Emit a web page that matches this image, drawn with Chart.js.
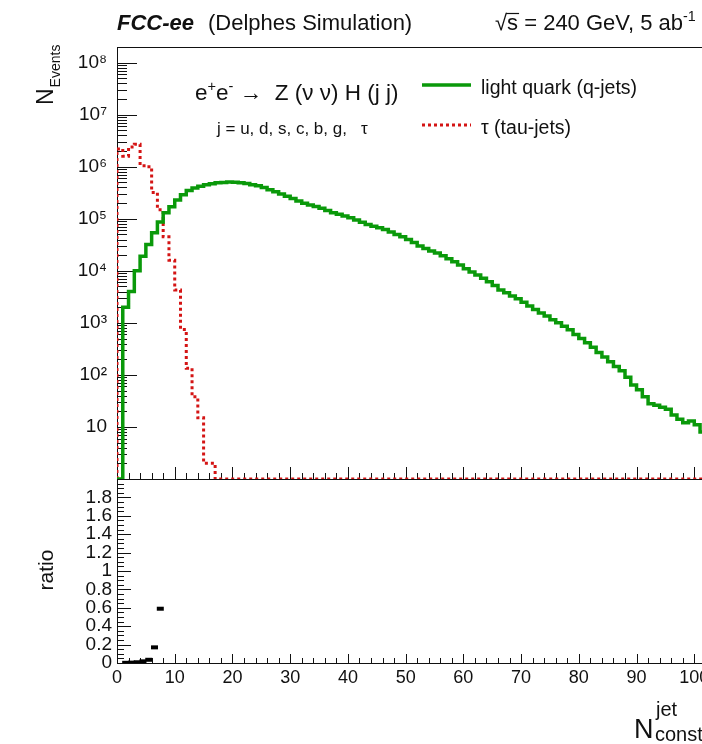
<!DOCTYPE html>
<html>
<head>
<meta charset="utf-8">
<script src="https://cdn.jsdelivr.net/npm/chart.js@4.4.1/dist/chart.umd.min.js"></script>
<style>
  html, body { margin: 0; padding: 0; background: #fff; overflow: hidden; }
  #wrap { position: relative; width: 702px; height: 744px; overflow: hidden; background: #fff; }
  #wrap canvas { position: absolute; left: 0; }
  #top { top: 0; }
  #bottom { top: 470px; }
</style>
</head>
<body>
<div id="wrap">
  <canvas id="top" width="800" height="480"></canvas>
  <canvas id="bottom" width="800" height="274"></canvas>
</div>
<script>
// jet constituent multiplicity, one bin per unit starting at 0
const qJets = [
  0, 2.0e3, 4.0e3, 1.0e4, 1.9e4, 3.2e4, 5.4e4, 8.7e4, 1.3e5, 1.7e5,
  2.3e5, 2.9e5, 3.5e5, 3.9e5, 4.2e5, 4.5e5, 4.7e5, 4.9e5, 5.0e5, 5.1e5,
  5.05e5, 4.95e5, 4.75e5, 4.5e5, 4.3e5, 4.0e5, 3.6e5, 3.3e5, 3.0e5, 2.7e5,
  2.45e5, 2.2e5, 2.0e5, 1.85e5, 1.72e5, 1.6e5, 1.45e5, 1.3e5, 1.22e5, 1.13e5,
  1.05e5, 9.5e4, 8.6e4, 7.8e4, 7.2e4, 6.7e4, 6.2e4, 5.6e4, 5.0e4, 4.5e4,
  4.0e4, 3.5e4, 3.0e4, 2.7e4, 2.4e4, 2.2e4, 1.95e4, 1.7e4, 1.5e4, 1.3e4,
  1.1e4, 9.5e3, 8.3e3, 7.2e3, 6.2e3, 5.2e3, 4.3e3, 3.8e3, 3.3e3, 2.9e3,
  2.5e3, 2.1e3, 1.8e3, 1.55e3, 1.35e3, 1.15e3, 1.0e3, 860, 740, 600,
  500, 415, 340, 270, 220, 180, 145, 120, 90, 64,
  52, 38, 28, 26, 24, 22, 17, 14, 12, 13,
  11, 8
];
const tauJets = [
  2.2e6, 1.6e6, 2.4e6, 2.7e6, 1.05e6, 1.0e6, 3.2e5, 1.5e5, 4.5e4, 1.6e4,
  4.3e3, 750, 135, 38, 15, 2, 2, 0, 0, 0,
  0, 0, 0, 0, 0, 0, 0, 0, 0, 0,
  0, 0, 0, 0, 0, 0, 0, 0, 0, 0,
  0, 0, 0, 0, 0, 0, 0, 0, 0, 0,
  0, 0, 0, 0, 0, 0, 0, 0, 0, 0,
  0, 0, 0, 0, 0, 0, 0, 0, 0, 0,
  0, 0, 0, 0, 0, 0, 0, 0, 0, 0,
  0, 0, 0, 0, 0, 0, 0, 0, 0, 0,
  0, 0, 0, 0, 0, 0, 0, 0, 0, 0,
  0, 0
];
// q-jets / tau-jets, only the bins that fall inside the 0-2 window
const ratioBins = [1, 2, 3, 4, 5, 6, 7];
const ratioValues = [0.002, 0.004, 0.008, 0.018, 0.035, 0.17, 0.59];

const countTickLabels = ['', '10', '10²', '10³', '10⁴', '10⁵', '10⁶', '10⁷', '10⁸'];
const ratioTickLabels = ['0', '0.2', '0.4', '0.6', '0.8', '1', '1.2', '1.4', '1.6', '1.8'];

const FONT = '"Liberation Sans", Arial, Helvetica, sans-serif';
const GREEN = '#0a990a';
const RED = '#d41414';
const INK = '#111';
const Y_MIN = 1;
const Y_MAX = 2e8;

Chart.defaults.font.family = FONT;
Chart.defaults.color = INK;

// histogram outline: rise from the floor, then one step per bin.
// empty bins sit on the frame bottom like ROOT draws them on a log axis
function outline(values, floor) {
  const pts = [{ x: 0, y: floor }];
  values.forEach((v, i) => pts.push({ x: i, y: Math.max(v, floor) }));
  pts.push({ x: values.length, y: Math.max(values[values.length - 1], floor) });
  return pts;
}

// text with superscript (1) / subscript (-1) pieces
function richText(ctx, x, y, parts, size, style) {
  let cx = x;
  parts.forEach(([t, k]) => {
    const fs = k ? size * 0.65 : size;
    ctx.font = `${style || ''} ${fs}px ${FONT}`;
    ctx.fillText(t, cx, y - k * size * 0.42);
    cx += ctx.measureText(t).width;
  });
  return cx;
}

// ROOT style frame with inward ticks
const rootFrame = {
  id: 'rootFrame',
  beforeDatasetsDraw(chart, args, o) {
    const { ctx, chartArea: a } = chart;
    const xs = chart.scales.x, ys = chart.scales.y;
    ctx.save();
    ctx.strokeStyle = INK;
    ctx.lineWidth = 1;
    ctx.strokeRect(a.left + 0.5, a.top + 0.5, a.right - a.left, a.bottom - a.top);
    ctx.beginPath();
    const nx = Math.round((xs.max - xs.min) / o.xMinor);
    for (let k = 0; k <= nx; k++) {
      const px = Math.round(xs.getPixelForValue(xs.min + k * o.xMinor)) + 0.5;
      const len = k % o.xEvery === 0 ? o.xMajorLen : o.xMinorLen;
      ctx.moveTo(px, a.bottom);
      ctx.lineTo(px, a.bottom - len);
    }
    if (o.log) {
      for (let e = 0; e < 9; e++) {
        for (let m = 1; m < 10; m++) {
          const v = m * Math.pow(10, e);
          if (v > ys.max) break;
          const py = Math.round(ys.getPixelForValue(v)) + 0.5;
          ctx.moveTo(a.left, py);
          ctx.lineTo(a.left + (m === 1 ? o.yMajorLen : o.yMinorLen), py);
        }
      }
    } else {
      const ny = Math.round((ys.max - ys.min) / o.yMinor);
      for (let k = 0; k <= ny; k++) {
        const py = Math.round(ys.getPixelForValue(ys.min + k * o.yMinor)) + 0.5;
        ctx.moveTo(a.left, py);
        ctx.lineTo(a.left + (k % o.yEvery === 0 ? o.yMajorLen : o.yMinorLen), py);
      }
    }
    ctx.stroke();
    ctx.restore();
  }
};

const upperText = {
  id: 'upperText',
  afterDraw(chart) {
    const ctx = chart.ctx;
    ctx.save();
    ctx.fillStyle = INK;
    ctx.textBaseline = 'alphabetic';

    // header line
    ctx.font = `italic bold 22px ${FONT}`;
    ctx.fillText('FCC-ee', 117, 30);
    ctx.font = `22px ${FONT}`;
    ctx.fillText('(Delphes Simulation)', 208, 30);
    let x = 495;
    ctx.fillText('√', x, 30);
    x += ctx.measureText('√').width;
    const sw = ctx.measureText('s').width;
    ctx.fillText('s', x, 30);
    ctx.beginPath();
    ctx.lineWidth = 1.2;
    ctx.strokeStyle = INK;
    ctx.moveTo(x - 1, 13.5);
    ctx.lineTo(x + sw + 1, 13.5);
    ctx.stroke();
    richText(ctx, x + sw, 30, [[' = 240 GeV, 5 ab', 0], ['-1', 1]], 22);

    // process description
    richText(ctx, 195, 100, [['e', 0], ['+', 1], ['e', 0], ['-', 1], [' →  Z (ν ν) H (j j)', 0]], 22.5);
    ctx.font = `17px ${FONT}`;
    ctx.fillText('j = u, d, s, c, b, g,   τ', 217, 134);

    // legend
    const rows = [94, 134];
    chart.data.datasets.forEach((ds, i) => {
      const y = rows[i];
      ctx.save();
      ctx.strokeStyle = ds.borderColor;
      ctx.lineWidth = ds.borderWidth;
      ctx.setLineDash(ds.borderDash || []);
      ctx.beginPath();
      ctx.moveTo(422, y - 9);
      ctx.lineTo(471, y - 9);
      ctx.stroke();
      ctx.restore();
      ctx.font = `19.5px ${FONT}`;
      ctx.fillText(ds.label, 481, y);
    });

    // y title
    ctx.translate(53, 105);
    ctx.rotate(-Math.PI / 2);
    ctx.font = `23px ${FONT}`;
    ctx.fillText('N', 0, 0);
    const nw = ctx.measureText('N').width;
    ctx.font = `14px ${FONT}`;
    ctx.fillText('Events', nw + 1, 7);
    ctx.restore();
  }
};

const lowerText = {
  id: 'lowerText',
  afterDraw(chart) {
    const ctx = chart.ctx;
    ctx.save();
    ctx.fillStyle = INK;
    ctx.font = `27px ${FONT}`;
    ctx.fillText('N', 634, 268);
    ctx.font = `20px ${FONT}`;
    ctx.fillText('jet', 656, 246);
    ctx.fillText('const', 655, 271);
    ctx.translate(53, 100);
    ctx.rotate(-Math.PI / 2);
    ctx.textAlign = 'center';
    ctx.font = `21px ${FONT}`;
    ctx.fillText('ratio', 0, 0);
    ctx.restore();
  }
};

new Chart(document.getElementById('top'), {
  type: 'line',
  data: {
    datasets: [
      { label: 'light quark (q-jets)', data: outline(qJets, Y_MIN), borderColor: GREEN,
        borderWidth: 3.5, stepped: 'before', pointRadius: 0, fill: false },
      { label: 'τ (tau-jets)', data: outline(tauJets, Y_MIN), borderColor: RED,
        borderWidth: 3, borderDash: [3, 3], stepped: 'before', pointRadius: 0, fill: false }
    ]
  },
  options: {
    responsive: false,
    animation: false,
    devicePixelRatio: 1,
    events: [],
    layout: { padding: { top: 47, right: 48, bottom: 1, left: 0 } },
    scales: {
      x: { type: 'linear', min: 0, max: 110, display: false },
      y: {
        type: 'logarithmic', min: Y_MIN, max: Y_MAX,
        grid: { display: false, drawTicks: false },
        border: { display: false },
        ticks: {
          autoSkip: false, padding: 10, font: { size: 19 },
          callback: v => {
            const e = Math.round(Math.log10(v));
            return Math.abs(v - Math.pow(10, e)) < 1e-6 * v ? countTickLabels[e] : null;
          }
        },
        afterFit: s => { s.width = 117; s.paddingTop = 0; s.paddingBottom = 0; }
      }
    },
    plugins: {
      legend: { display: false },
      tooltip: { enabled: false },
      rootFrame: { xMinor: 2, xEvery: 5, xMajorLen: 12, xMinorLen: 6, log: true, yMajorLen: 20, yMinorLen: 10 }
    }
  },
  plugins: [rootFrame, upperText]
});

new Chart(document.getElementById('bottom'), {
  type: 'scatter',
  data: {
    datasets: [{
      data: ratioBins.map((b, i) => ({ x: b + 0.5, y: ratioValues[i] })),
      pointStyle: 'line', pointRadius: 3.5, borderWidth: 4,
      borderColor: '#000', backgroundColor: '#000'
    }]
  },
  options: {
    responsive: false,
    animation: false,
    devicePixelRatio: 1,
    events: [],
    layout: { padding: { top: 9, right: 48, bottom: 0, left: 0 } },
    scales: {
      x: {
        type: 'linear', min: 0, max: 110,
        grid: { display: false, drawTicks: false },
        border: { display: false },
        ticks: { stepSize: 10, padding: 4, font: { size: 18 }, maxRotation: 0, autoSkip: false },
        afterFit: s => { s.height = 81; s.paddingLeft = 0; s.paddingRight = 0; }
      },
      y: {
        type: 'linear', min: 0, max: 2,
        grid: { display: false, drawTicks: false },
        border: { display: false },
        ticks: {
          stepSize: 0.2, padding: 5, font: { size: 19 }, autoSkip: false,
          callback: v => ratioTickLabels[Math.round(v / 0.2)] ?? null
        },
        afterFit: s => { s.width = 117; s.paddingTop = 0; s.paddingBottom = 0; }
      }
    },
    plugins: {
      legend: { display: false },
      tooltip: { enabled: false },
      rootFrame: { xMinor: 2, xEvery: 5, xMajorLen: 9, xMinorLen: 5, log: false, yMinor: 0.05, yEvery: 4, yMajorLen: 14, yMinorLen: 7 }
    }
  },
  plugins: [rootFrame, lowerText]
});
</script>
</body>
</html>
